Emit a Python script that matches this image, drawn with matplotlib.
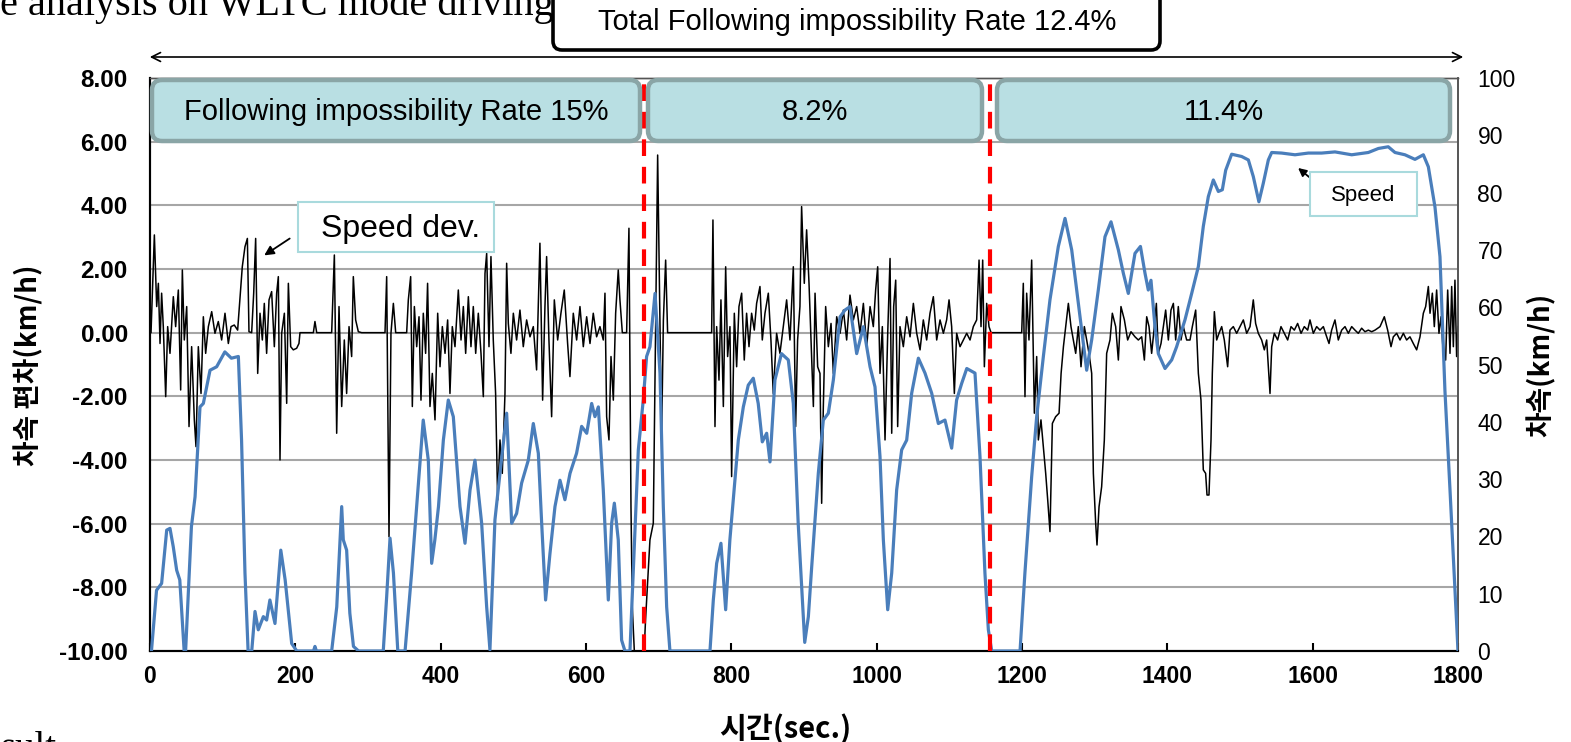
import numpy as np
import matplotlib
matplotlib.use("Agg")
import matplotlib.pyplot as plt
import matplotlib.ticker as mticker
from matplotlib.patches import FancyBboxPatch, Rectangle

plt.rcParams['font.family'] = ['Liberation Sans', 'DejaVu Sans']

# vehicle speed (km/h, right axis) vs time (sec.)
speed_t = [0, 2, 9, 16, 23, 27.5, 32, 36.7, 41, 47, 49, 57, 62, 65.6, 68.8, 73.4, 78, 82.6, 91.7, 103,
           112, 121.6, 126, 130.7, 135, 140, 144.5, 149, 156, 160.5, 165, 172, 180, 186, 195, 202, 225, 227, 229, 250,
           257, 263.8, 266, 270.6, 275, 280, 287, 321, 325.7, 330.3, 335, 341, 351, 360, 367, 371.5, 376, 383, 387.6, 392,
           397, 403.7, 410.5, 417.4, 426.6, 433.5, 440.4, 447.2, 456.4, 463.3, 467.8, 474.7, 481.6, 490.8, 497.7, 504.5,
           511.4, 520.6, 527.5, 534.4, 539, 544.4, 550.4, 557.3, 564.2, 571, 578, 587, 594, 601, 607.8, 612.3, 617,
           623.8, 630.7, 635.3, 639, 644.4, 649, 653.6, 660.5, 665, 672, 678.8, 683.4, 688, 695, 701.8, 706.4, 711,
           715.5, 770.6, 775.2, 779.8, 785.7, 792.2, 798, 802.7, 809.6, 816.5, 823.3, 830.2, 837, 842.6, 848.6, 853.2,
           860, 869, 878.4, 885.3, 892, 901, 906, 910.6, 919.7, 926.6, 933.5, 940.4, 949.6, 956.4, 963.3, 972.5, 981.7,
           990.9, 997.7, 1004.6, 1009.2, 1015.2, 1020.7, 1027.5, 1034.4, 1041.3, 1048.2, 1057.4, 1066.5, 1075.7, 1084.9,
           1094, 1103.2, 1110, 1117, 1124, 1135.3, 1142.2, 1149, 1153.7, 1158.3, 1197.3, 1204, 1213.3, 1220.2, 1229.4,
           1238.5, 1250, 1259.2, 1268.4, 1277.5, 1289, 1295.9, 1305, 1314.2, 1322.5, 1332.6, 1339.5, 1346.3, 1355.5,
           1363, 1369.3, 1373.8, 1377.5, 1383, 1387.6, 1396.8, 1406, 1412.8, 1424.3, 1433.5, 1442.7, 1449.5, 1456.4,
           1463.3, 1470.2, 1475.7, 1480.3, 1488.5, 1502.3, 1511.5, 1518.3, 1526, 1532, 1539, 1543.6, 1557.3, 1575.7,
           1594, 1612.4, 1630.7, 1653.7, 1676.6, 1690.4, 1704, 1713.3, 1727, 1740.8, 1752.3, 1759.2, 1768.3, 1775.2,
           1782, 1789, 1795.8, 1800]
speed_v = [0, 0, 10.6, 11.8, 21.1, 21.4, 18.2, 14.1, 12.4, 0, 0, 21.7, 26.9, 35.1, 42.6, 43.2, 46.1, 49.0, 49.6, 52.2,
           51.1, 51.4, 36.8, 13.6, 0, 0, 6.9, 3.7, 6.0, 5.4, 8.9, 4.8, 17.6, 12.4, 1.3, 0, 0, 0.8, 0, 0,
           7.7, 25.2, 19.4, 17.6, 6.6, 0.8, 0, 0, 9.5, 19.7, 13.6, 0, 0, 13.6, 25.2, 32.5, 40.3, 33.3, 15.3, 19.4,
           25.2, 36.8, 43.8, 40.9, 25.2, 18.8, 28.1, 33.3, 22.3, 7.7, 0.2, 22.9, 31.0, 41.5, 22.3, 24.0,
           29.3, 33.3, 39.7, 34.5, 22.3, 8.9, 17.0, 25.2, 29.8, 26.4, 31.0, 34.5, 39.2, 38.0, 43.2, 40.9, 42.6,
           28.1, 8.9, 22.3, 25.8, 19.4, 1.9, 0, 0, 13.6, 35.1, 43.8, 51.4, 53.1, 62.4, 48.5, 25.2, 7.7,
           0, 0, 8.9, 15.3, 18.8, 7.2, 19.4, 26.4, 36.8, 42.6, 46.4, 47.6, 43.2, 36.5, 38.0, 33.0,
           47.3, 51.9, 50.8, 43.2, 22.3, 1.5, 6.0, 14.7, 31.0, 40.3, 41.5, 47.3, 58.3, 59.5, 60.1, 51.9, 56.6,
           49.6, 46.1, 33.9, 19.4, 7.2, 13.6, 28.1, 35.1, 36.8, 45.0, 51.1, 48.5, 45.0, 39.7,
           40.3, 35.4, 43.8, 46.7, 49.3, 48.5, 33.9, 13.6, 3.7, 0, 0, 13.6, 30.4, 40.9, 51.4,
           61.3, 70.6, 75.5, 70.0, 60.7, 49.0, 54.3, 63.0, 72.3, 74.9, 70.0, 65.9, 62.4, 69.4,
           70.6, 65.9, 63.0, 64.7, 56.6, 51.9, 49.3, 50.8, 53.1, 57.8, 62.4, 67.1, 74.1, 79.3,
           82.2, 80.2, 80.5, 83.9, 86.7, 86.3, 85.7, 82.8, 78.4, 81.6, 85.7, 87.0, 86.9, 86.6,
           86.9, 86.9, 87.1, 86.6, 87.0, 87.7, 88.0, 87.0, 86.6, 85.8, 86.6, 84.5, 77.5, 68.8,
           45.5, 28.1, 10.6, 0]

# speed deviation (km/h, left axis) vs time (sec.)
dev_t = [0, 1.4, 6, 9.2, 11.5, 13.8, 16, 18.3, 21.6, 24.3, 27.5, 32.1, 35.3, 39, 42.2, 44.5, 47.2, 50.5, 53.7, 57.3,
         61, 63.3, 66.5, 70.2, 73.4, 76.6, 80.3, 84.9, 89.4, 94, 98.6, 103.2, 107.8, 111.5, 116, 120.6, 123.9, 127,
         130.7, 134, 136.2, 139.9, 142.7, 145.4, 148.2, 151.4, 154.6, 157.3, 160.5, 163.8, 167.4, 171.1, 174.3, 176.6,
         178.9, 181.2, 184.9, 188.1, 190.4, 193.6, 197.2, 201.8, 205, 206.4, 224.8, 227, 229.4, 250, 253.7, 256.9,
         260.1, 263.8, 267.4, 270.6, 273.9, 277.5, 279.8, 283, 286.7, 291.3, 323.4, 325.7, 328.9, 331.6, 334.9, 338.1,
         353.2, 355.5, 358.7, 361, 363.8, 367, 370.2, 372.9, 376.1, 379.3, 382, 385.3, 388.5, 392.2, 395.9, 399.1,
         402.3, 406, 409.6, 412.8, 416, 419.7, 424.3, 428, 431.2, 434.4, 438.1, 441.7, 444.9, 448.2, 451.8, 455.5,
         458.7, 461, 463.3, 466.5, 469.2, 472.4, 475.6, 478.4, 481.6, 484.8, 488.5, 490.8, 493.1, 496.7, 500, 504.5,
         509.1, 513.7, 518.3, 522.9, 527.5, 532, 536.6, 540.3, 543.5, 545.8, 549, 552.7, 556.4, 561, 565.5, 570.1,
         574.7, 577.9, 582.5, 587.1, 591.7, 596.3, 600.9, 605.5, 610, 614.6, 619.2, 623.8, 626.1, 628.4, 631.6, 634.4,
         637.6, 640.8, 644.4, 646.7, 650, 655.9, 659.1, 661.9, 663.7, 666.5, 680, 682, 688, 692.6, 698.6, 704, 706.5,
         709.6, 712.3, 772.9, 774.7, 777.5, 779.8, 783, 785.7, 789, 792.2, 794.9, 798.1, 800.4, 804.1, 807.3, 810.5,
         814.2, 817.8, 821, 824.3, 827.9, 831.6, 834.8, 839.4, 842.6, 846.3, 850.9, 854.5, 857.7, 862.3, 866.9, 871.5,
         876.1, 880.7, 885.3, 888.5, 891.2, 894.4, 896.7, 900.4, 903.6, 906.9, 909.7, 912.9, 915.2, 918.8, 922,
         924.3, 926.6, 929.8, 933.5, 937.2, 940.4, 945, 949.6, 954.2, 958.7, 963.3, 967.9, 972.5, 977.1, 981.7,
         986.3, 990.9, 995.4, 998.6, 1001.4, 1004.6, 1007.8, 1011.5, 1015.2, 1018.4, 1020.7, 1023.4, 1026.2, 1028.9,
         1032.1, 1036.7, 1041.3, 1045.9, 1050.5, 1055.1, 1059.7, 1064.2, 1068.8, 1073.4, 1078, 1082.6, 1087.2,
         1091.8, 1096.3, 1099.6, 1103.2, 1106.9, 1110.1, 1114.7, 1119.3, 1123.9, 1128.5, 1133, 1137.6, 1140.9,
         1143.6, 1145.9, 1148.2, 1151.4, 1154.6, 1157.4, 1199.6, 1201.8, 1204.1, 1206.4, 1209.6, 1213.3, 1217,
         1220.2, 1222.5, 1226.1, 1229.4, 1232.6, 1235.4, 1238.5, 1241.8, 1246.3, 1251, 1253.8, 1257, 1260.1, 1263.8,
         1267.4, 1270.7, 1273.9, 1277.5, 1281.2, 1285.8, 1289, 1292.2, 1295.9, 1298.2, 1301.4, 1303.2, 1306, 1309.6,
         1313.3, 1316.5, 1321.1, 1324.3, 1328.9, 1332.6, 1336.2, 1340.9, 1345.4, 1350, 1355.5, 1360.1, 1364.7,
         1368.4, 1371.6, 1374.8, 1378.4, 1382.1, 1384.9, 1387.6, 1391.3, 1394.5, 1397.7, 1401.4, 1405, 1408.3,
         1411.5, 1415.1, 1418.8, 1422, 1426.6, 1431.2, 1434.4, 1439, 1442.7, 1446.3, 1449.5, 1452.7, 1454.6, 1457.3,
         1460.1, 1461.9, 1464.7, 1467.9, 1471.1, 1474.8, 1478.4, 1483, 1486.2, 1490.8, 1495.4, 1500, 1504.6, 1509.2,
         1513.8, 1518.3, 1521.5, 1525.2, 1529.8, 1533.5, 1536.7, 1539, 1541.3, 1543.6, 1547.2, 1551.8, 1556.4, 1561,
         1565.6, 1570.2, 1574.8, 1579.3, 1584, 1588.5, 1593.1, 1596.3, 1600.9, 1605.5, 1610.1, 1614.7, 1619.3,
         1622.5, 1626.1, 1630.7, 1635.3, 1639.9, 1644.5, 1649.1, 1653.7, 1658.2, 1662.8, 1667.4, 1672, 1676.6,
         1681.2, 1685.8, 1692.7, 1698.6, 1703.2, 1707.8, 1711, 1715.6, 1720.2, 1724.8, 1729.3, 1733.9, 1738.5,
         1743.1, 1747.7, 1752.3, 1755.5, 1759.2, 1761.5, 1764.7, 1767.4, 1770.6, 1773.8, 1776.6, 1779.8, 1783,
         1785.8, 1789, 1791.3, 1793.6, 1795.8, 1798.1, 1800]
dev_v = [0, 0, 3.07, 0.82, 1.55, -0.34, 1.24, 0.19, -2.01, 0.19, -0.65, 1.13, 0.19, 1.34, -1.80, 1.97, -0.23, 0.82, -2.95, -0.44,
         -2.74, -3.58, -0.44, -1.91, 0.50, -0.65, 0.19, 0.66, -0.02, 0.35, -0.23, 0.61, -0.34, 0.19, 0.24, 0.08, 1.13, 2.07,
         2.70, 2.96, 0.03, 0, 1.24, 2.96, -1.28, 0.61, -0.23, 0.92, -0.65, 1.03, 1.29, -0.44, 1.24, 1.76,
         -4.0, -0.02, 0.61, -2.22, 1.55, -0.44, -0.54, -0.49, -0.34, 0, 0, 0.35, 0, 0, 2.44, -3.16,
         0.82, -2.32, -0.23, -1.91, 0.19, -0.75, 1.76, 0.40, 0.03, 0, 0, 1.76, -6.41, -0.02, 0.92, 0,
         0, 1.03, 1.76, -2.32, 0.82, -0.44, 0.50, -2.12, 0.61, -0.65, 1.55, -2.32, -1.28, -2.74, 0.61, -1.07,
         0.19, -0.65, 0.40, -1.91, 0.19, -0.44, 1.34, -0.23, 0.82, -0.65, 1.13, -0.44, 0.82, -0.65, 0.61, -0.65,
         -2.01, 1.86, 2.49, -0.44, 2.39, -0.23, -1.91, -5.26, -3.37, -4.42, -1.91, 2.18, 0.29, -0.65, 0.61, -0.23,
         0.71, -0.44, 0.40, -0.13, 0.19, -1.17, 2.81, -2.12, 0.82, 2.39, -0.23, -2.64, 1.03, -0.23, 0.61, 1.34,
         -0.34, -1.38, 0.61, -0.23, 0.82, -0.44, 0.50, -0.34, 0.61, -0.13, 0.19, -0.23, 1.24, -2.64, -3.37, -0.75,
         -2.12, 0.61, 1.97, 1.03, 0, 0, 3.28, -5.47, -8.61, -10.0, -10.0, -9.0, -6.51, -5.99, 5.58, -3.37, 0.4,
         2.28, 0, 0, 3.54, -2.95, 0.19, -1.49, 1.03, -2.32, 2.07, -0.75, 0.19, -4.52, 0.61, -1.07, 0.82,
         1.24, -0.86, 0.61, -0.44, 0.61, 0.08, 0.92, 1.45, -0.23, 0.61, 1.24, -0.23, -1.91, -0.02, -0.65, 0.19,
         1.03, -0.23, 2.07, -2.95, -0.23, 0.82, 3.96, 1.55, 3.23, 1.55, -0.23, -2.32, 1.24, -1.07, -1.28,
         -5.36, -2.32, 0.82, -0.44, 0.29, -1.28, 0.50, -0.02, 0.71, -0.23, 1.18, 0.40, 0.82, -0.02, 0.92,
         -0.44, 0.82, 0.19, 1.34, 2.07, -1.28, 0.19, -3.37, -0.02, 2.33, -3.16, 0.82, 1.65, -2.95,
         0.19, -0.44, 0.50, -0.13, 0.92, -0.02, -0.54, 0.40, -0.23, 0.61, 1.13, -0.23, 0.40,
         -0.02, 0.40, 1.03, 0.19, -1.91, -0.02, -0.44, -0.23, -0.02, -0.23, 0.19, 0.40, 2.28,
         0.19, 2.28, -1.07, 0.92, 0.19, 0, 0, 1.55, -2.01, 1.24, -0.23, 2.28, -2.53,
         -0.75, -3.37, -2.74, -3.58, -4.42, -5.26, -6.25, -2.85, -2.64, -2.53, -1.28, -0.44, 0.19, 0.92,
         0.19, -0.23, -0.65, 0.19, -1.07, 0.19, -0.23, -0.65, -1.28, -4.42, -5.99, -6.67, -5.47, -4.84,
         -3.37, -0.65, -0.23, 0.61, 0.19, -0.86, 0.82, 0.40, -0.23, 0.03, -0.13, -0.23, -0.13,
         -0.86, 0.50, 0.19, -0.65, 0.19, 0.92, -0.65, -0.34, 0.19, 0.71, -0.23, 0.71, 0.92,
         -0.23, 0.82, -0.23, 0.19, -0.23, -0.23, 0.19, 0.71, -1.28, -2.12, -4.31, -4.42, -5.10, -5.10,
         -3.37, -1.28, 0.66, -0.23, -0.02, 0.19, -0.23, -1.07, 0.08, 0.19, -0.02, 0.19, 0.40, -0.02,
         0.19, 1.03, 0.29, -0.02, -0.23, -0.54, -0.23, -1.07, -1.91, -0.44, -0.02, -0.23, 0.19, -0.02,
         -0.23, 0.19, 0.08, 0.29, -0.02, 0.19, 0.08, 0.40, -0.02, 0.19, 0.08, 0.19, -0.13,
         -0.34, 0.08, 0.40, -0.23, 0.08, 0.19, -0.02, 0.19, 0.08, -0.02, 0.14, 0.03, 0.08,
         0.03, 0.08, 0.19, 0.50, 0.08, -0.44, -0.13, -0.02, -0.23, -0.02, -0.23, -0.13, -0.34,
         -0.54, -0.13, 0.61, 0.82, 1.45, 0.61, 1.24, 0.19, 1.34, -0.02, 0.50, -0.65, -0.86,
         1.34, -0.65, 1.45, -0.44, 1.65, -0.75, 0.19]

# section boundaries and rates
section_bounds = [680, 1156]
section_labels = ["Following impossibility Rate 15%", "8.2%", "11.4%"]
total_label = "Total Following impossibility Rate 12.4%"

W, H = 1571, 742
fig = plt.figure(figsize=(W / 100, H / 100), dpi=100)
ax = fig.add_axes([150 / W, 1 - 651 / H, 1308 / W, 573 / H])
ax2 = ax.twinx()

ax.plot(dev_t, dev_v, color='black', lw=1.1, zorder=3)
ax2.plot(speed_t, speed_v, color='#4a7ebb', lw=2.3, zorder=3)
for b in section_bounds:
    ax2.axvline(b, color='#ff0000', lw=3, dashes=(4, 2.6), zorder=5)

ax.set_xlim(0, 1800)
ax.set_ylim(-10, 8)
ax2.set_ylim(0, 100)
ax.set_xticks(np.arange(0, 1801, 200))
ax.set_yticks(np.arange(-10, 8.1, 2))
ax2.set_yticks(np.arange(0, 101, 10))
ax.yaxis.set_major_formatter(mticker.FormatStrFormatter('%.2f'))

ax.yaxis.grid(True, color='#a6a6a6', lw=1.5, zorder=0)
ax.set_axisbelow(True)
ax.tick_params(axis='y', length=0, pad=16, labelsize=17.5)
for lab in ax.get_yticklabels():
    lab.set_fontweight('bold')
ax.tick_params(axis='x', direction='in', length=6, width=1.5, pad=10, labelsize=16.5)
for lab in ax.get_xticklabels():
    lab.set_fontweight('bold')
ax2.tick_params(axis='y', length=0, pad=14, labelsize=16.5)

for a in (ax, ax2):
    a.spines['top'].set_color('#555555')
    a.spines['top'].set_linewidth(1.0)
    a.spines['left'].set_linewidth(1.5)
    a.spines['bottom'].set_linewidth(1.5)
    a.spines['right'].set_color('#555555')
    a.spines['right'].set_linewidth(1.2)

# axis titles (Korean)
kr = ['Noto Sans CJK KR', 'DejaVu Sans']
fig.text(29 / W, 1 - 365 / H, "차속 편차(km/h)", rotation=90, ha='center', va='center',
         fontsize=20, fontweight='bold', family=kr)
fig.text(1541 / W, 1 - 365 / H, "차속(km/h)", rotation=90, ha='center', va='center',
         fontsize=20, fontweight='bold', family=kr)
fig.text(785 / W, 1 - 729 / H, "시간(sec.)", ha='center', va='center',
         fontsize=21, fontweight='bold', family=kr)

# surrounding page text (cut off in the scan)
fig.text(0, 1 - 15 / H, "e analysis on WLTC mode driving", ha='left', va='baseline',
         fontsize=29, family='Liberation Serif', zorder=1)
fig.text(0, 1 - 731 / H, "sult", ha='left', va='top', fontsize=28, family='Liberation Serif')

# overlay in pixel coordinates for boxes
ov = fig.add_axes([0, 0, 1, 1], zorder=10)
ov.set_xlim(0, W)
ov.set_ylim(H, 0)
ov.axis('off')
ov.patch.set_alpha(0)

ov.add_patch(FancyBboxPatch((553, -30), 607, 80, boxstyle='round,pad=0,rounding_size=9',
                            fc='white', ec='black', lw=2.6))
ov.text(857, 22, total_label, ha='center', va='center', fontsize=21)
ov.annotate('', xy=(147, 57), xytext=(1466, 57),
            arrowprops=dict(arrowstyle='<->', color='black', lw=1.2, mutation_scale=16))

boxes_x = [(152, 640), (648, 982), (997, 1450)]
for (x0, x1), lab in zip(boxes_x, section_labels):
    ov.add_patch(FancyBboxPatch((x0, 80), x1 - x0, 61, boxstyle='round,pad=0,rounding_size=10',
                                fc='#b9dfe3', ec='#8aa5a6', lw=3.2))
    ov.text((x0 + x1) / 2, 112, lab, ha='center', va='center', fontsize=21)

ov.add_patch(Rectangle((298, 202), 196, 50, fc='white', ec='#a9dadd', lw=1.5))
ov.text(401, 229, "Speed dev.", ha='center', va='center', fontsize=23)
ov.add_patch(Rectangle((1310, 172), 107, 44, fc='white', ec='#a9dadd', lw=1.5))
ov.text(1363, 195, "Speed", ha='center', va='center', fontsize=16)

# arrows pointing at the series
ax.annotate('', xy=(154, 2.38), xycoords='data', xytext=(292 / W, 1 - 237 / H), textcoords='figure fraction',
            arrowprops=dict(arrowstyle='-|>', color='black', lw=1.3, mutation_scale=14), zorder=8)
ax2.annotate('', xy=(1577, 84.6), xycoords='data', xytext=(1314 / W, 1 - 181 / H), textcoords='figure fraction',
             arrowprops=dict(arrowstyle='-|>', color='black', lw=1.3, mutation_scale=12), zorder=8)

fig.savefig('out.png', dpi=100)
